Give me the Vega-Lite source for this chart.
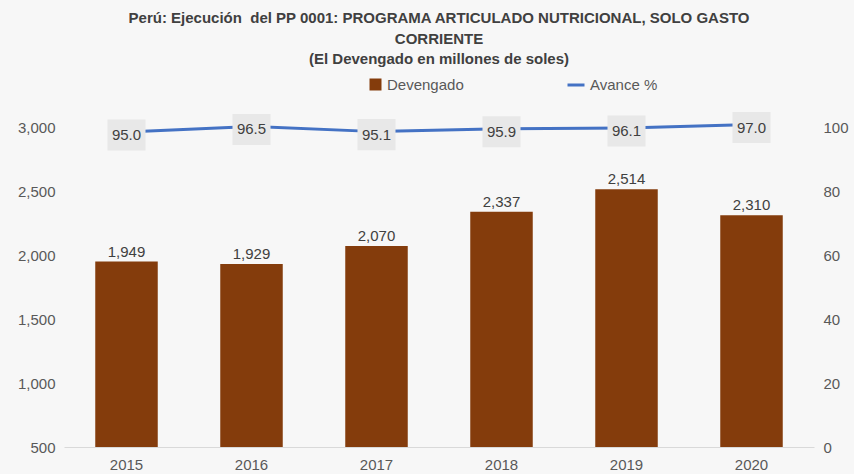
{
  "$schema": "https://vega.github.io/schema/vega-lite/v6.json",
  "width": 750,
  "height": 320,
  "autosize": {"type": "none"},
  "padding": {"left": 64, "top": 127, "right": 40, "bottom": 27},
  "background": "#f7f7f7",
  "config": {
    "view": {"stroke": null},
    "font": "Liberation Sans",
    "axis": {"labelFont": "Liberation Sans", "labelFontSize": 15, "labelColor": "#595959", "grid": false, "ticks": false, "domain": false, "title": null},
    "legend": {"labelFont": "Liberation Sans", "labelFontSize": 15, "labelColor": "#595959", "padding": 0, "title": null}
  },
  "title": {
    "text": ["Perú: Ejecución\u00a0 del PP 0001: PROGRAMA ARTICULADO NUTRICIONAL, SOLO GASTO", "CORRIENTE", "(El Devengado en millones de soles)"],
    "anchor": "middle",
    "fontSize": 15,
    "fontWeight": "bold",
    "color": "#404040",
    "lineHeight": 20.5,
    "baseline": "bottom",
    "offset": -7
  },
  "data": {"values": [
    {"year": "2015", "dev": 1949, "av": 95.0},
    {"year": "2016", "dev": 1929, "av": 96.5},
    {"year": "2017", "dev": 2070, "av": 95.1},
    {"year": "2018", "dev": 2337, "av": 95.9},
    {"year": "2019", "dev": 2514, "av": 96.1},
    {"year": "2020", "dev": 2310, "av": 97.0}
  ]},
  "encoding": {
    "x": {"field": "year", "type": "ordinal", "scale": {"paddingInner": 0.5, "paddingOuter": 0.25},
      "axis": {"labelAngle": 0, "domain": true, "domainColor": "#d9d9d9", "labelPadding": 10}}
  },
  "layer": [
    {
      "encoding": {
        "y": {"field": "dev", "type": "quantitative", "scale": {"domain": [500, 3000], "zero": false, "nice": false},
          "axis": {"orient": "left", "values": [500, 1000, 1500, 2000, 2500, 3000], "format": ",.0f", "labelPadding": 9}}
      },
      "layer": [
        {"mark": {"type": "bar"},
         "encoding": {
           "y2": {"datum": 500},
           "fill": {"datum": "Devengado", "type": "nominal", "scale": {"range": ["#843c0c"]},
           "legend": {"orient": "none", "legendX": 304, "legendY": -50, "symbolType": "square", "symbolSize": 144, "symbolStrokeWidth": 0}}}},
        {"mark": {"type": "text", "baseline": "bottom", "dy": -2, "fontSize": 15, "color": "#404040"},
         "encoding": {"text": {"field": "dev", "type": "quantitative", "format": ",.0f"}}}
      ]
    },
    {
      "mark": {"type": "point", "opacity": 0},
      "encoding": {
        "y": {"field": "av", "type": "quantitative", "scale": {"domain": [0, 100], "nice": false},
          "axis": {"orient": "right", "values": [0, 20, 40, 60, 80, 100], "labelPadding": 9}}
      }
    },
    {
      "encoding": {
        "y": {"field": "av", "type": "quantitative", "scale": {"domain": [9.85, 96.35], "nice": false, "zero": false}, "axis": null}
      },
      "layer": [
        {"mark": {"type": "line", "strokeWidth": 3},
         "encoding": {"stroke": {"datum": "Avance %", "type": "nominal", "scale": {"range": ["#4472c4"]},
           "legend": {"orient": "none", "legendX": 502, "legendY": -52, "symbolType": "stroke", "symbolSize": 289, "symbolStrokeWidth": 3}}}},
        {"mark": {"type": "point", "shape": "M-1,-0.816H1V0.816H-1Z", "size": 1444, "filled": true, "fill": "#e8e8e8", "opacity": 1, "strokeWidth": 0, "yOffset": 3}},
        {"mark": {"type": "text", "fontSize": 15, "color": "#404040", "baseline": "middle", "dy": 3},
         "encoding": {"text": {"field": "av", "type": "quantitative", "format": ".1f"}}}
      ]
    }
  ],
  "resolve": {"scale": {"y": "independent"}}
}
